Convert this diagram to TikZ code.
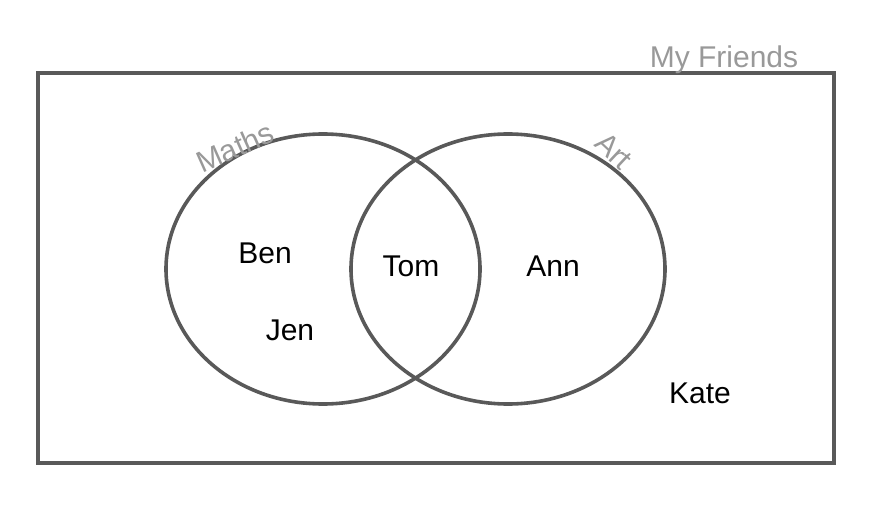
\documentclass[tikz,border=0pt]{standalone}
\usepackage{fontspec}
\setmainfont{Liberation Sans}
\usepackage{xcolor}
\usepackage{tikz}
\usetikzlibrary{positioning,shapes.geometric}
\definecolor{edgegray}{HTML}{595959}
\definecolor{labelgray}{HTML}{999999}

\begin{document}
\begin{tikzpicture}[x=1pt, y=-1pt,
    setring/.style={draw=edgegray, line width=3.6pt, ellipse, minimum width=314pt, minimum height=270pt, inner sep=0pt},
    setname/.style={labelgray, inner sep=0pt, font=\fontsize{30}{34}\selectfont},
    friend/.style={black, inner sep=0pt, font=\fontsize{30}{34}\selectfont}]
\useasboundingbox (0,0) rectangle (872,508);
\node[draw=edgegray, line width=3.6pt, minimum width=796pt, minimum height=390pt, inner sep=0pt] (friends) at (436,268) {};
\node[setring] (maths) at (323,269) {};
\node[setring] (art) at (508,269) {};
\node[setname] (friendslabel) at (724,60) {My Friends};
\node[setname, rotate=24] (mathslabel) at (235,147) {Maths};
\node[setname, rotate=-43] (artlabel) at (614,151) {Art};
\node[friend] (ben) at (265,253) {Ben};
\node[friend] (jen) at (290,330) {Jen};
\node[friend] (tom) at (411,266) {Tom};
\node[friend] (ann) at (553,266) {Ann};
\node[friend] (kate) at (700,393) {Kate};
\end{tikzpicture}
\end{document}
